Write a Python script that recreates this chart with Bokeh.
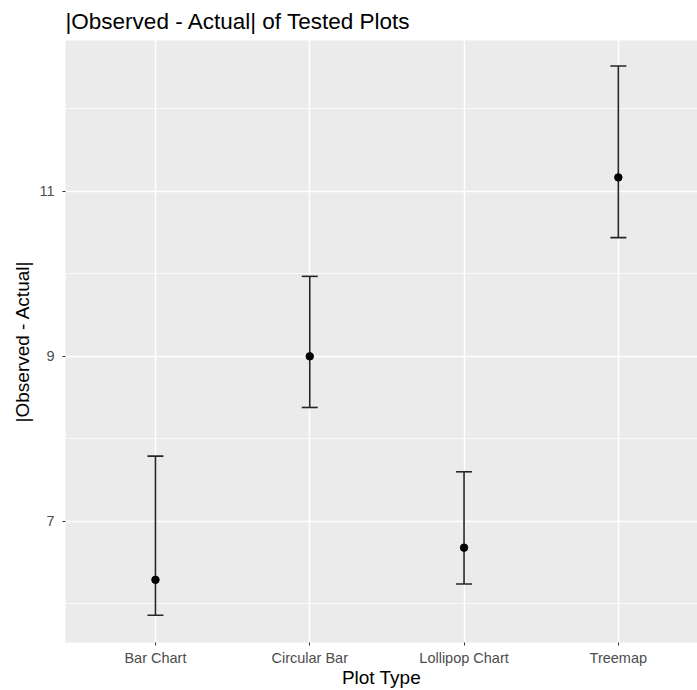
from bokeh.plotting import figure
from bokeh.models import Range1d, FixedTicker, Whisker, ColumnDataSource, TeeHead
from bokeh.embed import file_html
from bokeh.resources import INLINE

categories = ["Bar Chart", "Circular Bar", "Lollipop Chart", "Treemap"]
means = [6.29, 9.00, 6.68, 11.17]
lower = [5.86, 8.38, 6.24, 10.44]
upper = [7.79, 9.97, 7.60, 12.52]
y_ticks = [7, 9, 11]
y_minor = [6, 8, 10, 12]

xs = list(range(1, len(categories) + 1))
src = ColumnDataSource(dict(x=xs, mean=means, lower=lower, upper=upper))

FONT = "Liberation Sans"

p = figure(width=697, height=690, output_backend="svg", toolbar_location=None,
           x_range=Range1d(0.417, 4.513), y_range=Range1d(5.53, 12.83),
           frame_width=632, frame_height=602,
           min_border_left=65, min_border_right=0, min_border_top=40, min_border_bottom=48,
           title="|Observed - Actual| of Tested Plots")

p.background_fill_color = "#EBEBEB"
p.border_fill_color = "white"
p.outline_line_color = None

p.title.text_font = FONT
p.title.text_font_size = "22.5px"
p.title.text_font_style = "normal"
p.title.text_color = "black"
p.title.offset = 0
p.title.standoff = 13

# grids
p.xgrid.ticker = FixedTicker(ticks=xs)
p.xgrid.grid_line_color = "white"
p.xgrid.grid_line_width = 1.5
p.ygrid.ticker = FixedTicker(ticks=y_ticks, minor_ticks=y_minor)
p.ygrid.grid_line_color = "white"
p.ygrid.grid_line_width = 1.5
p.ygrid.minor_grid_line_color = "white"
p.ygrid.minor_grid_line_width = 0.7

# axes
p.xaxis.ticker = FixedTicker(ticks=xs)
p.xaxis.major_label_overrides = {x: c for x, c in zip(xs, categories)}
p.yaxis.ticker = FixedTicker(ticks=y_ticks, minor_ticks=y_minor)
for ax in (p.xaxis[0], p.yaxis[0]):
    ax.axis_line_color = None
    ax.major_tick_line_color = "#333333"
    ax.major_tick_line_width = 1
    ax.major_tick_in = 0
    ax.major_tick_out = 3
    ax.minor_tick_line_color = None
    ax.major_label_text_font = FONT
    ax.major_label_text_font_size = "14.5px"
    ax.major_label_text_color = "#4D4D4D"
    ax.axis_label_text_font = FONT
    ax.axis_label_text_font_size = "19px"
    ax.axis_label_text_font_style = "normal"
    ax.axis_label_text_color = "black"
p.xaxis.axis_label = "Plot Type"
p.yaxis.axis_label = "|Observed - Actual|"
p.xaxis.major_label_standoff = 4
p.xaxis.axis_label_standoff = -2
p.yaxis.major_label_standoff = 7
p.yaxis.axis_label_standoff = 3

w = Whisker(source=src, base="x", lower="lower", upper="upper",
            line_color="#262626", line_width=1.6,
            upper_head=TeeHead(size=16, line_color="#262626", line_width=1.6),
            lower_head=TeeHead(size=16, line_color="#262626", line_width=1.6))
p.add_layout(w)
p.scatter("x", "mean", source=src, size=7.5, color="black")

open("out.html", "w").write(file_html(p, INLINE))
